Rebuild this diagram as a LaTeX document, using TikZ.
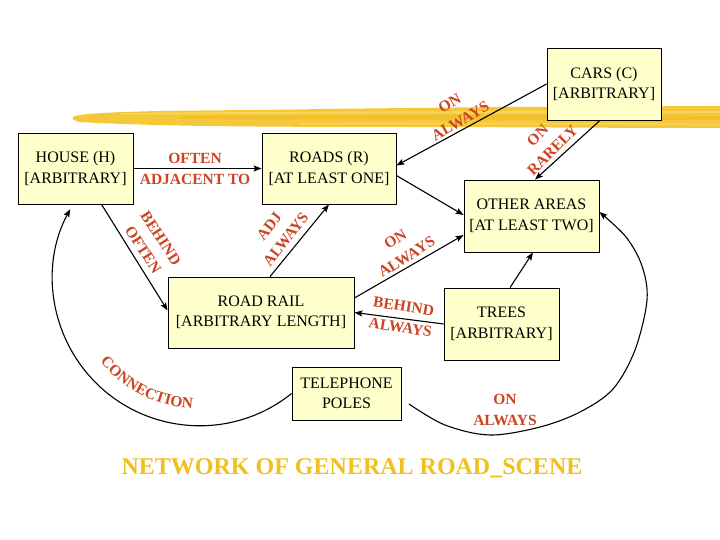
\documentclass[tikz,border=0pt]{standalone}
\usepackage{fontspec}
\setmainfont{Liberation Serif}
\usetikzlibrary{arrows.meta,decorations.text,calc}
\definecolor{boxfill}{RGB}{255,255,204}
\definecolor{labred}{RGB}{204,68,34}
\definecolor{titlegold}{RGB}{240,192,32}
\definecolor{brushgold}{RGB}{245,200,58}
\definecolor{brushlight}{RGB}{250,224,120}
\definecolor{brushdark}{RGB}{238,186,30}
\newcommand\lblfont{\fontsize{15.5}{21}\selectfont\bfseries}
\begin{document}
\begin{tikzpicture}[x=1pt,y=-1pt,
  box/.style={draw=black, line width=0.8pt, fill=boxfill, align=center, inner sep=0pt,
              font=\fontsize{16}{20.5}\selectfont},
  lbl/.style={text=labred, align=center, font=\lblfont, inner sep=0pt},
  conn/.style={line width=1.1pt, -{Stealth[length=8pt,width=6pt,inset=1.5pt]}}]
\useasboundingbox (0,0) rectangle (720,540);
\fill[white] (0,0) rectangle (720,540);
% brush stroke
\fill[brushgold] (73,117) .. controls (76,114) and (110,112) .. (160,111)
   .. controls (230,110) and (280,110) .. (320,109)
   -- (500,107) -- (720,106) -- (720,128) .. controls (600,128) and (500,127) .. (400,127)
   .. controls (250,127) and (150,126) .. (80,122) .. controls (74,121) and (72,119) .. (73,117) -- cycle;
\fill[brushdark, opacity=0.5] (180,116) .. controls (300,115) and (450,114) .. (720,116)
   -- (720,120) .. controls (450,119) and (300,120) .. (180,119) -- cycle;
\fill[brushlight, opacity=0.6] (120,113) .. controls (250,112) and (400,111) .. (720,111)
   -- (720,113) .. controls (400,113) and (250,114) .. (120,114.5) -- cycle;
\fill[brushlight, opacity=0.5] (300,123) .. controls (450,122) and (600,123) .. (720,124)
   -- (720,125.5) .. controls (600,124.5) and (450,124) .. (300,124.5) -- cycle;
% boxes
\node[box, minimum width=115pt, minimum height=71pt] (house) at (75.5,168.5) {HOUSE (H)\\{}[ARBITRARY]};
\node[box, minimum width=134pt, minimum height=71pt] (roads) at (329,168.5) {ROADS (R)\\{}[AT LEAST ONE]};
\node[box, minimum width=114pt, minimum height=72pt] (cars) at (604,84) {CARS (C)\\{}[ARBITRARY]};
\node[box, minimum width=135pt, minimum height=72pt] (oa) at (531.5,216) {OTHER AREAS\\{}[AT LEAST TWO]};
\node[box, minimum width=186pt, minimum height=71pt] (rail) at (261,312.5) {ROAD RAIL\\{}[ARBITRARY LENGTH]};
\node[box, minimum width=115pt, minimum height=72pt] (trees) at (501.5,324) {TREES\\{}[ARBITRARY]};
\node[box, minimum width=109pt, minimum height=53pt] (tel) at (346.5,393.5) {TELEPHONE\\POLES};
% connectors
\draw[conn] (house.east) -- (roads.west);
\draw[conn] ([xshift=26pt]house.south) -- ([yshift=2pt]rail.west);
\draw[conn] ([xshift=9pt]rail.north) -- (roads.south);
\draw[conn] (cars.west) -- ([yshift=3pt]roads.east);
\draw[conn] ([yshift=-7pt]roads.east) -- ([yshift=1pt]oa.west);
\draw[conn] ([yshift=14.5pt]rail.east) -- ([yshift=-19pt]oa.west);
\draw[conn] ([xshift=-4pt]cars.south) -- ([xshift=3.5pt]oa.north);
\draw[conn] ([xshift=8.5pt]trees.north) -- ([xshift=1.5pt]oa.south);
\draw[conn] (trees.west) -- (rail.east);
\draw[conn] (tel.west) arc[start angle=-51.3, end angle=-208.3, radius=147pt];
\coordinate (r0) at (409,404);
\coordinate (r1) at ([yshift=4pt]oa.east);
\draw[conn] plot[smooth, tension=0.55] coordinates {(r0) (445,425) (490,435) (540,427) (580,412) (613,389) (635,350) (647,300) (642,266) (626,237) (r1)};
% labels
\node[lbl] (l1) at (195,169) {OFTEN\\ADJACENT TO};
\node[lbl, rotate=-57] (l2) at (152,244) {BEHIND\\OFTEN};
\node[lbl, rotate=52] (l3) at (277.5,233) {ADJ\\ALWAYS};
\node[lbl, rotate=30] (l4) at (455,112) {ON\\ALWAYS};
\node[lbl, rotate=45] (l5) at (545,143) {ON\\RARELY};
\node[lbl, rotate=32] (l6) at (401,248) {ON\\ALWAYS};
\node[lbl, rotate=-9] (l7) at (402,317) {BEHIND\\ALWAYS};
\node[lbl] (l8) at (505,410) {ON\\ALWAYS};
\coordinate (cc) at (200,280);
\path[decorate, decoration={text along path, text align=center, text color=labred,
   text={|\lblfont|CONNECTION}}]
   (cc) ++(-140.7:129pt) arc[start angle=-140.7, end angle=-93.3, radius=129pt];
% title
\node[font=\fontsize{24}{28}\selectfont\bfseries, text=titlegold, inner sep=0pt] (title) at (352,468) {NETWORK OF GENERAL ROAD\_SCENE};
\end{tikzpicture}
\end{document}
